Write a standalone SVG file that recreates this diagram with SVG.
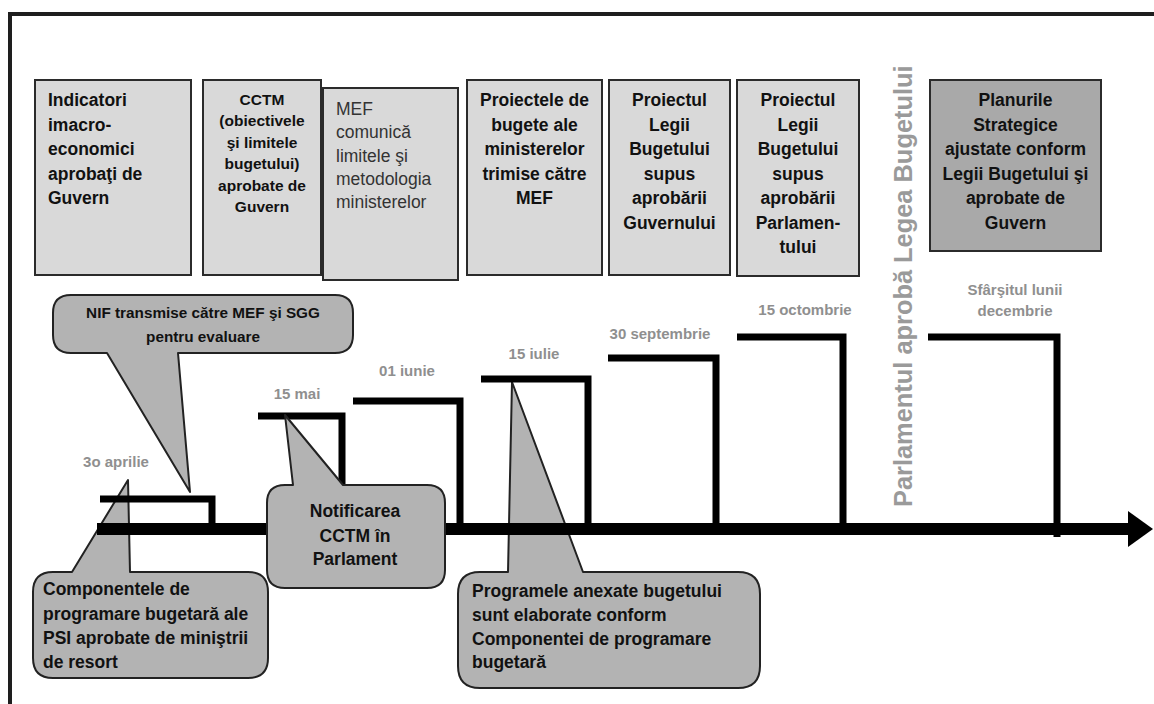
<svg xmlns="http://www.w3.org/2000/svg" width="1154" height="704" viewBox="0 0 1154 704">
<style>
.box{fill:#d9d9d9;stroke:#2b2b2b;stroke-width:2}
.box-dark{fill:#a9a9a9;stroke:#2b2b2b;stroke-width:2}
.t{font-family:"Liberation Sans",Arial,sans-serif;font-weight:bold;font-size:17.5px;fill:#111}
.small{font-size:15.5px}
.reg{font-weight:normal;fill:#333}
.c{text-anchor:middle}
.date{font-family:"Liberation Sans",Arial,sans-serif;font-weight:bold;font-size:15px;fill:#8f8f8f}
.callout{fill:#b3b3b3;stroke:#222;stroke-width:2;stroke-linejoin:round}
.step{fill:none;stroke:#000;stroke-width:7;stroke-linejoin:miter}
</style>
<rect width="1154" height="704" fill="#fff"/>
<path d="M10,704 V14 H1154" fill="none" stroke="#1e1e1e" stroke-width="4"/>

<g id="box-indicatori">
<rect class="box" x="35" y="80" width="156" height="195"/>
<text class="t" x="48"><tspan x="48" y="106">Indicatori</tspan><tspan x="48" y="130.5">imacro-</tspan><tspan x="48" y="155">economici</tspan><tspan x="48" y="179.5">aprobaţi de</tspan><tspan x="48" y="204">Guvern</tspan></text>
</g>
<g id="box-cctm">
<rect class="box" x="203" y="80" width="118" height="195"/>
<text class="t small c"><tspan x="262" y="105">CCTM</tspan><tspan x="262" y="126.4">(obiectivele</tspan><tspan x="262" y="147.8">şi limitele</tspan><tspan x="262" y="169.2">bugetului)</tspan><tspan x="262" y="190.6">aprobate de</tspan><tspan x="262" y="212">Guvern</tspan></text>
</g>
<g id="box-mef">
<rect class="box" x="323" y="88" width="135" height="192"/>
<text class="t reg"><tspan x="336" y="115">MEF</tspan><tspan x="336" y="138.3">comunică</tspan><tspan x="336" y="161.5">limitele şi</tspan><tspan x="336" y="184.8">metodologia</tspan><tspan x="336" y="208">ministerelor</tspan></text>
</g>
<g id="box-proiectele">
<rect class="box" x="467" y="80" width="135" height="195"/>
<text class="t c"><tspan x="534.5" y="106">Proiectele de</tspan><tspan x="534.5" y="130.5">bugete ale</tspan><tspan x="534.5" y="155">ministerelor</tspan><tspan x="534.5" y="179.5">trimise către</tspan><tspan x="534.5" y="204">MEF</tspan></text>
</g>
<g id="box-guvern">
<rect class="box" x="609" y="80" width="121" height="195"/>
<text class="t c"><tspan x="669.5" y="106">Proiectul</tspan><tspan x="669.5" y="130.5">Legii</tspan><tspan x="669.5" y="155">Bugetului</tspan><tspan x="669.5" y="179.5">supus</tspan><tspan x="669.5" y="204">aprobării</tspan><tspan x="669.5" y="228.5">Guvernului</tspan></text>
</g>
<g id="box-parlament">
<rect class="box" x="737" y="80" width="122" height="196"/>
<text class="t c"><tspan x="798" y="106">Proiectul</tspan><tspan x="798" y="130.5">Legii</tspan><tspan x="798" y="155">Bugetului</tspan><tspan x="798" y="179.5">supus</tspan><tspan x="798" y="204">aprobării</tspan><tspan x="798" y="228.5">Parlamen-</tspan><tspan x="798" y="253">tului</tspan></text>
</g>
<g id="box-planuri">
<rect class="box-dark" x="930" y="80" width="171" height="171"/>
<text class="t c"><tspan x="1015.5" y="106">Planurile</tspan><tspan x="1015.5" y="130.5">Strategice</tspan><tspan x="1015.5" y="155">ajustate conform</tspan><tspan x="1015.5" y="179.5">Legii Bugetului şi</tspan><tspan x="1015.5" y="204">aprobate de</tspan><tspan x="1015.5" y="228.5">Guvern</tspan></text>
</g>

<g id="label-parlament">
<text transform="translate(912,507) rotate(-90)" x="0" y="0" style="font-family:'Liberation Sans',Arial,sans-serif;font-weight:bold;font-size:25.4px;fill:#9a9a9a">Parlamentul aprobă Legea Bugetului</text>
</g>

<g id="dates">
<text class="date c" x="116" y="467">3o aprilie</text>
<text class="date c" x="297" y="399">15 mai</text>
<text class="date c" x="407" y="376">01 iunie</text>
<text class="date c" x="534" y="359">15 iulie</text>
<text class="date c" x="660" y="339">30 septembrie</text>
<text class="date c" x="805" y="315">15 octombrie</text>
<text class="date c"><tspan x="1015" y="295">Sfârşitul lunii</tspan><tspan x="1015" y="316">decembrie</tspan></text>
</g>

<g id="callout-nif">
<path class="callout" d="M71,295 H335 Q353,295 353,313 V335 Q353,353 335,353 H178 L190,492 L107,353 H71 Q53,353 53,335 V313 Q53,295 71,295 Z"/>
<text class="t c" style="font-size:15.3px"><tspan x="203" y="318">NIF transmise către MEF şi SGG</tspan><tspan x="203" y="342">pentru evaluare</tspan></text>
</g>
<g id="callout-componentele">
<path class="callout" d="M53,572 H72 L128,480 L130,572 H248 Q268,572 268,592 V658 Q268,678 248,678 H53 Q33,678 33,658 V592 Q33,572 53,572 Z"/>
<text class="t"><tspan x="43" y="595">Componentele de</tspan><tspan x="43" y="619.5">programare bugetară ale</tspan><tspan x="43" y="643.5">PSI aprobate de miniştrii</tspan><tspan x="43" y="668">de resort</tspan></text>
</g>
<g id="callout-programele">
<path class="callout" d="M480,572 H508 L512,382 L583,572 H738 Q760,572 760,594 V666 Q760,688 738,688 H480 Q458,688 458,666 V594 Q458,572 480,572 Z"/>
<text class="t"><tspan x="472" y="597">Programele anexate bugetului</tspan><tspan x="472" y="621">sunt elaborate conform</tspan><tspan x="472" y="645">Componentei de programare</tspan><tspan x="472" y="668">bugetară</tspan></text>
</g>

<g id="connectors">
<line x1="97" y1="529" x2="1132" y2="529" stroke="#000" stroke-width="12"/>
<polygon points="1128,511 1153,529 1128,547" fill="#000"/>
<path class="step" d="M100,499 H212 V529"/>
<path class="step" d="M258,416 H342 V529"/>
<path class="step" d="M353,401 H460 V529"/>
<path class="step" d="M481,379 H588 V529"/>
<path class="step" d="M608,358 H716 V529"/>
<path class="step" d="M737,337 H843 V529"/>
<path class="step" d="M928,337 H1057 V537"/>
</g>

<g id="callout-notificarea">
<path class="callout" d="M285,485 H293 L285,415 L343,485 H427 Q445,485 445,503 V570 Q445,588 427,588 H285 Q267,588 267,570 V503 Q267,485 285,485 Z"/>
<text class="t c"><tspan x="355" y="517">Notificarea</tspan><tspan x="355" y="541.5">CCTM în</tspan><tspan x="355" y="565">Parlament</tspan></text>
</g>
</svg>
